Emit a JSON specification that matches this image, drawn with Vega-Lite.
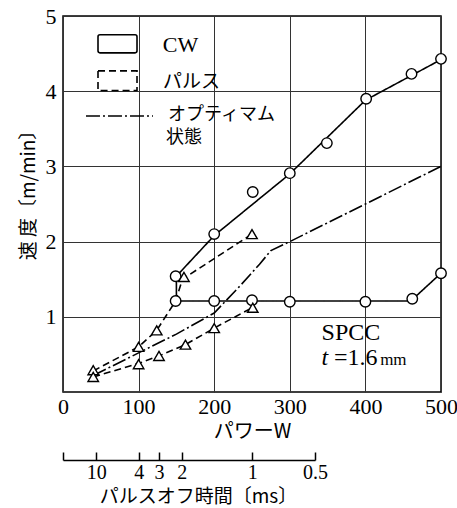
{
  "$schema": "https://vega.github.io/schema/vega-lite/v6.json",
  "width": 378,
  "height": 376,
  "autosize": "none",
  "padding": {"left": 63, "top": 16, "right": 16, "bottom": 116},
  "background": "white",
  "config": {
    "view": {"stroke": "black", "strokeWidth": 1.5},
    "axis": {"labelColor": "black", "titleColor": "black", "labelFont": "Liberation Serif", "labelFontSize": 22, "titleFont": "Noto Sans CJK JP", "titleFontSize": 19, "titleFontWeight": "normal"}
  },
  "datasets": {
    "lines": [
      {"s": "cw_up", "t": "CW", "o": 1, "x": 150, "y": 1.21},
      {"s": "cw_up", "t": "CW", "o": 2, "x": 150, "y": 1.54},
      {"s": "cw_up", "t": "CW", "o": 3, "x": 200, "y": 2.08},
      {"s": "cw_up", "t": "CW", "o": 4, "x": 300, "y": 2.9},
      {"s": "cw_up", "t": "CW", "o": 5, "x": 400, "y": 3.88},
      {"s": "cw_up", "t": "CW", "o": 6, "x": 500, "y": 4.42},
      {"s": "cw_low", "t": "CW", "o": 1, "x": 150, "y": 1.21},
      {"s": "cw_low", "t": "CW", "o": 2, "x": 460, "y": 1.21},
      {"s": "cw_low", "t": "CW", "o": 3, "x": 500, "y": 1.58},
      {"s": "p_up", "t": "パルス", "o": 1, "x": 40, "y": 0.28},
      {"s": "p_up", "t": "パルス", "o": 2, "x": 100, "y": 0.6},
      {"s": "p_up", "t": "パルス", "o": 3, "x": 124, "y": 0.82},
      {"s": "p_up", "t": "パルス", "o": 4, "x": 149, "y": 1.21},
      {"s": "p_up", "t": "パルス", "o": 5, "x": 158, "y": 1.5},
      {"s": "p_up", "t": "パルス", "o": 6, "x": 250, "y": 2.1},
      {"s": "p_low", "t": "パルス", "o": 1, "x": 40, "y": 0.2},
      {"s": "p_low", "t": "パルス", "o": 2, "x": 100, "y": 0.38},
      {"s": "p_low", "t": "パルス", "o": 3, "x": 127, "y": 0.48},
      {"s": "p_low", "t": "パルス", "o": 4, "x": 162, "y": 0.63},
      {"s": "p_low", "t": "パルス", "o": 5, "x": 200, "y": 0.85},
      {"s": "p_low", "t": "パルス", "o": 6, "x": 250, "y": 1.12},
      {"s": "opt", "t": "オプティマム状態", "o": 1, "x": 40, "y": 0.22},
      {"s": "opt", "t": "オプティマム状態", "o": 2, "x": 100, "y": 0.52},
      {"s": "opt", "t": "オプティマム状態", "o": 3, "x": 150, "y": 0.77},
      {"s": "opt", "t": "オプティマム状態", "o": 4, "x": 200, "y": 1.05},
      {"s": "opt", "t": "オプティマム状態", "o": 5, "x": 235, "y": 1.42},
      {"s": "opt", "t": "オプティマム状態", "o": 6, "x": 260, "y": 1.7},
      {"s": "opt", "t": "オプティマム状態", "o": 7, "x": 275, "y": 1.88},
      {"s": "opt", "t": "オプティマム状態", "o": 8, "x": 300, "y": 2.0},
      {"s": "opt", "t": "オプティマム状態", "o": 9, "x": 500, "y": 3.0}
    ],
    "pts": [
      {"m": "circle", "x": 149, "y": 1.54},
      {"m": "circle", "x": 149, "y": 1.21},
      {"m": "circle", "x": 200, "y": 2.1},
      {"m": "circle", "x": 200, "y": 1.21},
      {"m": "circle", "x": 251, "y": 2.66},
      {"m": "circle", "x": 250, "y": 1.22},
      {"m": "circle", "x": 300, "y": 2.91},
      {"m": "circle", "x": 300, "y": 1.2},
      {"m": "circle", "x": 349, "y": 3.31},
      {"m": "circle", "x": 401, "y": 3.9},
      {"m": "circle", "x": 400, "y": 1.2},
      {"m": "circle", "x": 461, "y": 4.23},
      {"m": "circle", "x": 462, "y": 1.24},
      {"m": "circle", "x": 500, "y": 4.43},
      {"m": "circle", "x": 500, "y": 1.58},
      {"m": "triangle", "x": 40, "y": 0.29},
      {"m": "triangle", "x": 40, "y": 0.2},
      {"m": "triangle", "x": 100, "y": 0.6},
      {"m": "triangle", "x": 100, "y": 0.37},
      {"m": "triangle", "x": 124, "y": 0.82},
      {"m": "triangle", "x": 127, "y": 0.48},
      {"m": "triangle", "x": 160, "y": 1.53},
      {"m": "triangle", "x": 162, "y": 0.63},
      {"m": "triangle", "x": 200, "y": 0.85},
      {"m": "triangle", "x": 251, "y": 1.12},
      {"m": "triangle", "x": 250, "y": 2.1}
    ],
    "off": [
      {"p": 0, "ms": ""},
      {"p": 44, "ms": "10"},
      {"p": 100, "ms": "4"},
      {"p": 127, "ms": "3"},
      {"p": 157, "ms": "2"},
      {"p": 250, "ms": "1"},
      {"p": 333, "ms": "0.5"}
    ]
  },
  "layer": [
    {
      "layer": [
        {
          "data": {"name": "lines"},
          "mark": {"type": "line", "color": "black", "strokeWidth": 1.6},
          "encoding": {
            "x": {"field": "x", "type": "quantitative", "scale": {"domain": [0, 500], "nice": false},
              "axis": {"values": [0, 100, 200, 300, 400, 500], "grid": true, "gridColor": "#333", "gridWidth": 1, "ticks": false, "domain": false, "labelPadding": 4, "labelFlush": false, "title": "パワーW", "titleFontSize": 20, "titlePadding": 4}},
            "y": {"field": "y", "type": "quantitative", "scale": {"domain": [0, 5], "nice": false},
              "axis": {"values": [1, 2, 3, 4, 5], "format": "d", "grid": true, "gridColor": "#333", "gridWidth": 1, "ticks": false, "domain": false, "labelPadding": 7, "title": "速 度〔m/min〕", "titlePadding": 7, "titleY": 174}},
            "detail": {"field": "s"},
            "order": {"field": "o"},
            "strokeDash": {"field": "t", "type": "nominal", "scale": {"domain": ["CW", "パルス", "オプティマム状態"], "range": [[1, 0], [7, 4], [14, 3, 2, 3]]}, "legend": null}
          }
        },
        {
          "data": {"name": "pts"},
          "mark": {"type": "point", "filled": true, "fill": "white", "stroke": "black", "strokeWidth": 1.4, "size": 110, "opacity": 1},
          "encoding": {
            "x": {"field": "x", "type": "quantitative"},
            "y": {"field": "y", "type": "quantitative"},
            "shape": {"field": "m", "type": "nominal", "scale": {"domain": ["circle", "triangle"], "range": ["circle", "triangle-up"]}, "legend": null}
          }
        },
        {
          "data": {"values": [{}]},
          "mark": {"type": "rect", "fill": "white", "stroke": "black", "strokeWidth": 1.6, "cornerRadius": 2},
          "encoding": {"x": {"datum": 46.3, "type": "quantitative"}, "x2": {"datum": 97.9}, "y": {"datum": 4.75, "type": "quantitative"}, "y2": {"datum": 4.51}}
        },
        {
          "data": {"values": [{}]},
          "mark": {"type": "rect", "fill": "white", "stroke": "black", "strokeWidth": 1.6, "strokeDash": [7, 4]},
          "encoding": {"x": {"datum": 46.3, "type": "quantitative"}, "x2": {"datum": 97.9}, "y": {"datum": 4.27, "type": "quantitative"}, "y2": {"datum": 4.01}}
        },
        {
          "data": {"values": [{}]},
          "mark": {"type": "rule", "stroke": "black", "strokeWidth": 1.6, "strokeDash": [14, 3, 2, 3]},
          "encoding": {"x": {"datum": 30.4, "type": "quantitative"}, "x2": {"datum": 119}, "y": {"datum": 3.67, "type": "quantitative"}}
        },
        {
          "data": {"values": [{}]},
          "mark": {"type": "text", "font": "Liberation Serif", "fontSize": 22, "align": "left", "baseline": "middle", "color": "black"},
          "encoding": {"x": {"datum": 132, "type": "quantitative"}, "y": {"datum": 4.61, "type": "quantitative"}, "text": {"value": "CW"}}
        },
        {
          "data": {"values": [{}]},
          "mark": {"type": "text", "font": "Noto Sans CJK JP", "fontSize": 19, "align": "left", "baseline": "middle", "color": "black"},
          "encoding": {"x": {"datum": 132.3, "type": "quantitative"}, "y": {"datum": 4.12, "type": "quantitative"}, "text": {"value": "パルス"}}
        },
        {
          "data": {"values": [{}]},
          "mark": {"type": "text", "font": "Noto Sans CJK JP", "fontSize": 18, "align": "left", "baseline": "middle", "color": "black"},
          "encoding": {"x": {"datum": 138.9, "type": "quantitative"}, "y": {"datum": 3.69, "type": "quantitative"}, "text": {"value": "オプティマム"}}
        },
        {
          "data": {"values": [{}]},
          "mark": {"type": "text", "font": "Noto Sans CJK JP", "fontSize": 18, "align": "left", "baseline": "middle", "color": "black"},
          "encoding": {"x": {"datum": 136.2, "type": "quantitative"}, "y": {"datum": 3.38, "type": "quantitative"}, "text": {"value": "状態"}}
        },
        {
          "data": {"values": [{}]},
          "mark": {"type": "text", "font": "Liberation Serif", "fontSize": 24, "align": "left", "baseline": "middle", "color": "black"},
          "encoding": {"x": {"datum": 342, "type": "quantitative"}, "y": {"datum": 0.78, "type": "quantitative"}, "text": {"value": "SPCC"}}
        },
        {
          "data": {"values": [{}]},
          "mark": {"type": "text", "font": "Liberation Serif", "fontSize": 24, "fontStyle": "italic", "align": "left", "baseline": "middle", "color": "black"},
          "encoding": {"x": {"datum": 342, "type": "quantitative"}, "y": {"datum": 0.45, "type": "quantitative"}, "text": {"value": "t"}}
        },
        {
          "data": {"values": [{}]},
          "mark": {"type": "text", "font": "Liberation Serif", "fontSize": 24, "align": "left", "baseline": "middle", "color": "black"},
          "encoding": {"x": {"datum": 358.5, "type": "quantitative"}, "y": {"datum": 0.45, "type": "quantitative"}, "text": {"value": "=1.6"}}
        },
        {
          "data": {"values": [{}]},
          "mark": {"type": "text", "font": "Liberation Serif", "fontSize": 17, "align": "left", "baseline": "middle", "color": "black"},
          "encoding": {"x": {"datum": 419.5, "type": "quantitative"}, "y": {"datum": 0.43, "type": "quantitative"}, "text": {"value": "mm"}}
        }
      ]
    },
    {
      "data": {"name": "off"},
      "mark": {"type": "point", "opacity": 0},
      "encoding": {
        "x": {"field": "p", "type": "quantitative", "scale": {"domain": [0, 333], "range": [0, 252], "nice": false, "zero": false},
          "axis": {"orient": "bottom", "offset": 68, "values": [0, 44, 100, 127, 157, 250, 333],
            "labelExpr": "datum.value == 44 ? '10' : datum.value == 100 ? '4' : datum.value == 127 ? '3' : datum.value == 157 ? '2' : datum.value == 250 ? '1' : datum.value == 333 ? '0.5' : ''",
            "grid": false, "domain": true, "domainColor": "black", "domainWidth": 1.5, "ticks": true, "tickSize": -8, "tickColor": "black", "tickWidth": 1.5,
            "labelFontSize": 20, "labelPadding": 10, "labelFlush": false, "labelOverlap": false, "title": "パルスオフ時間〔ms〕", "titleFontSize": 19, "titleX": 135, "titleY": 27}}
      }
    }
  ],
  "resolve": {"scale": {"x": "independent"}, "axis": {"x": "independent"}}
}
